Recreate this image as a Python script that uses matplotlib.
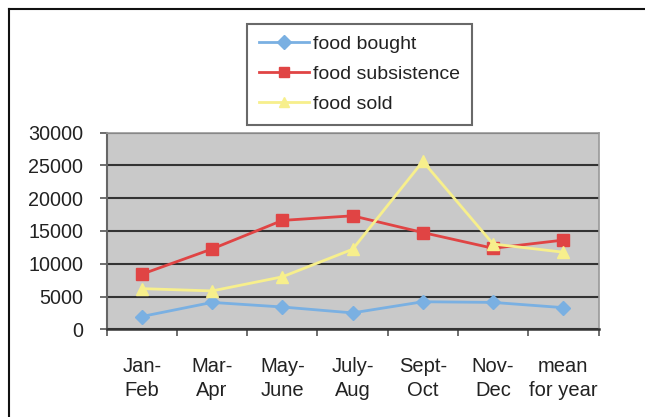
import matplotlib
matplotlib.use("Agg")
import matplotlib.pyplot as plt
from matplotlib.lines import Line2D

plt.rcParams['font.family'] = ['Liberation Sans', 'DejaVu Sans']

categories = ["Jan-\nFeb", "Mar-\nApr", "May-\nJune", "July-\nAug", "Sept-\nOct", "Nov-\nDec", "mean\nfor year"]
food_bought = [1950, 4100, 3400, 2500, 4200, 4100, 3300]
food_subsistence = [8400, 12250, 16600, 17300, 14750, 12350, 13600]
food_sold = [6200, 5850, 8000, 12200, 25600, 13000, 11750]
yticks = [0, 5000, 10000, 15000, 20000, 25000, 30000]

fig = plt.figure(figsize=(6.45, 4.17), dpi=100)
ax = fig.add_axes([106.7/645, 1-329.3/417, (598.5-106.7)/645, (329.3-132.5)/417])
ax.set_facecolor('#c9c9c9')

x = list(range(len(categories)))
ax.plot(x, food_bought, color='#7ab0e2', lw=2.0, marker='D', ms=7.5, mec='#7ab0e2', mfc='#7ab0e2', label='food bought', zorder=3)
ax.plot(x, food_subsistence, color='#e04444', lw=2.0, marker='s', ms=8.5, mec='#e04444', mfc='#e04444', label='food subsistence', zorder=3)
ax.plot(x, food_sold, color='#f7ef8c', lw=2.0, marker='^', ms=9, mec='#f7ef8c', mfc='#f7ef8c', label='food sold', zorder=3)

ax.set_xlim(-0.5, len(categories) - 0.5)
ax.set_ylim(0, 30000)
ax.set_yticks(yticks)
ax.set_yticklabels([str(v) for v in yticks])
ax.yaxis.grid(True, color='#333333', lw=1.5)
ax.set_axisbelow(True)

ax.set_xticks([i + 0.5 for i in range(-1, len(categories))], minor=False)
ax.set_xticklabels([])
ax.set_xticks(x, minor=True)
ax.set_xticklabels(categories, minor=True, fontsize=14.5, linespacing=1.3)
ax.tick_params(axis='x', which='major', length=4.8, width=1.2, color='#555555', direction='out')
ax.tick_params(axis='x', which='minor', length=0, pad=20)
ax.tick_params(axis='y', length=4.8, width=1.2, color='#555555', direction='out', pad=12, labelsize=14.2, labelcolor='#222222')
for lab in ax.get_xticklabels(minor=True):
    lab.set_color('#222222')

for side in ['top', 'right']:
    ax.spines[side].set_color('#999999')
    ax.spines[side].set_linewidth(1.2)
ax.spines['left'].set_color('#666666')
ax.spines['left'].set_linewidth(1.5)
ax.spines['bottom'].set_color('#333333')
ax.spines['bottom'].set_linewidth(1.8)

leg = fig.legend(loc='upper left', bbox_to_anchor=(247/645, 1-24/417), bbox_transform=fig.transFigure,
                 frameon=True, fancybox=False, fontsize=14, handlelength=2.6, handletextpad=0.2,
                 labelspacing=0.63, borderpad=0.6, borderaxespad=0)
leg.get_frame().set_edgecolor('#444444')
leg.get_frame().set_linewidth(1.5)
for t in leg.get_texts():
    t.set_color('#222222')
for h in leg.legend_handles:
    h.set_markersize(7.5)

# outer border (left and top only visible)
fig.add_artist(Line2D([8.5/645, 8.5/645], [0, 1-9/417], transform=fig.transFigure, color='#111111', lw=1.5))
fig.add_artist(Line2D([8.5/645, 1], [1-9/417, 1-9/417], transform=fig.transFigure, color='#111111', lw=1.5))

fig.savefig('out.png', dpi=100)
